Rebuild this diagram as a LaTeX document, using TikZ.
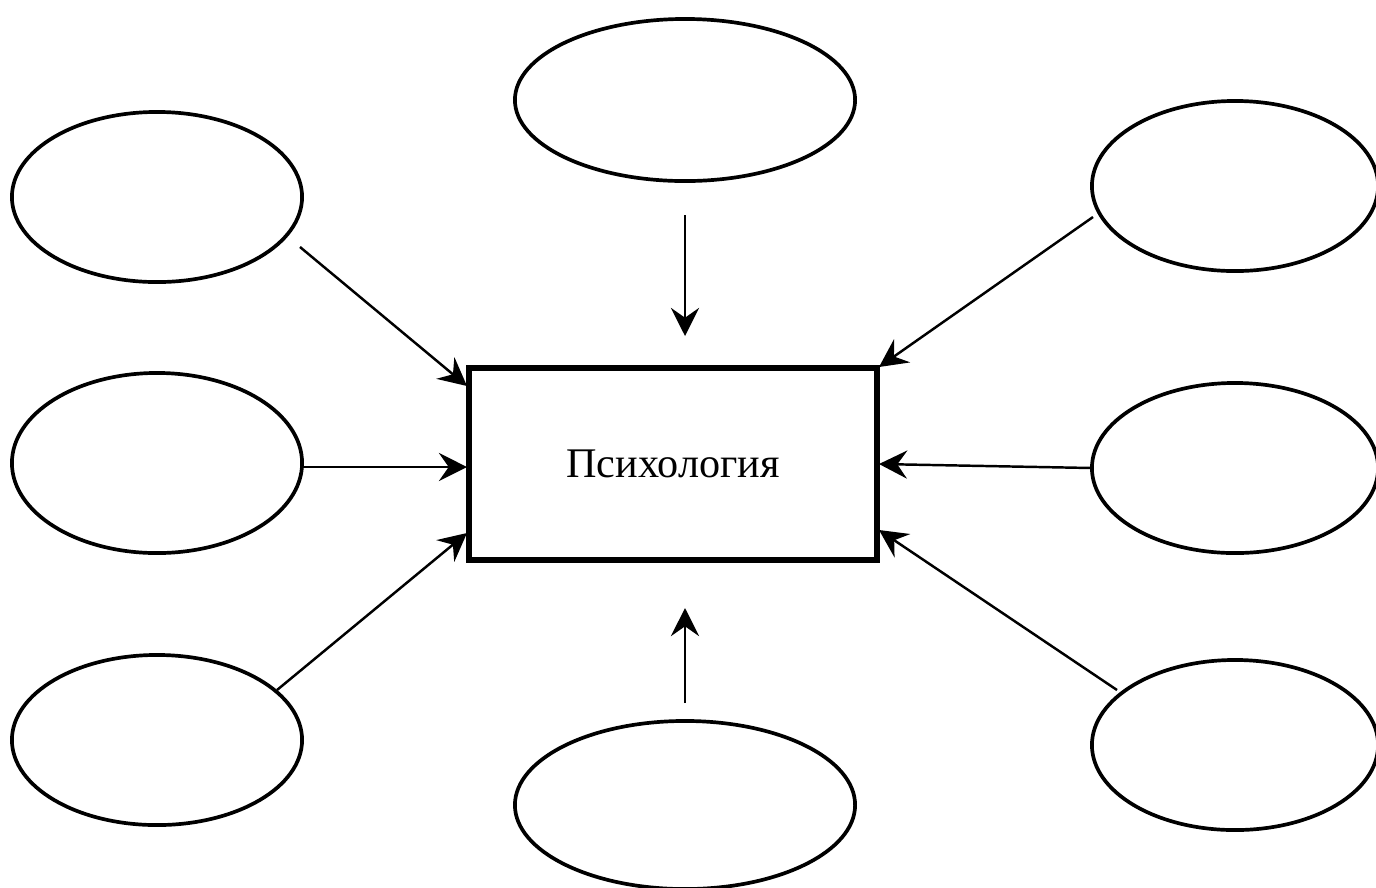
\documentclass[tikz,border=0pt]{standalone}
\usepackage{fontspec}
\setmainfont{Liberation Serif}
\usetikzlibrary{shapes.geometric, arrows.meta}

\tikzset{
    oval/.style={draw, ellipse, line width=1.05pt, inner sep=0pt, minimum width=2.9cm, minimum height=1.7cm},
    wideoval/.style={oval, minimum width=3.4cm, minimum height=1.62cm},
    pointer/.style={-{Stealth[length=8pt, width=8pt, inset=2.8pt]}, line width=0.7pt}
}

\begin{document}
\begin{tikzpicture}[x=0.01cm, y=-0.01cm]
    \useasboundingbox (0,0) rectangle (1376,887);
    % centre box
    \node[draw, line width=1.5pt, minimum width=4.08cm, minimum height=1.92cm, font=\fontsize{12}{14}\selectfont] (psy) at (673,464) {Психология};
    % ovals
    \node[oval] (leftTop) at (157,197) {};
    \node[oval, minimum height=1.8cm] (leftMid) at (157,463) {};
    \node[oval] (leftBot) at (157,740) {};
    \node[wideoval] (top) at (685,100) {};
    \node[wideoval, minimum height=1.68cm] (bot) at (685,805) {};
    \node[oval, minimum width=2.86cm] (rightTop) at (1235,186) {};
    \node[oval, minimum width=2.86cm] (rightMid) at (1235,468) {};
    \node[oval, minimum width=2.86cm] (rightBot) at (1235,745) {};
    % free ends of the arrows
    \coordinate (ltS) at (300,247);  \coordinate (ltE) at (467,386);
    \coordinate (lmS) at (302,467);  \coordinate (lmE) at (467,467);
    \coordinate (lbS) at (277,690);  \coordinate (lbE) at (467,533);
    \coordinate (tS) at (685,215);   \coordinate (tE) at (685,336);
    \coordinate (bS) at (685,703);   \coordinate (bE) at (685,608);
    \coordinate (rtS) at (1093,217); \coordinate (rtE) at (879,367);
    \coordinate (rmS) at (1092,468); \coordinate (rmE) at (879,464);
    \coordinate (rbS) at (1117,690); \coordinate (rbE) at (879,530);
    \draw[pointer] (ltS) -- (ltE);
    \draw[pointer] (lmS) -- (lmE);
    \draw[pointer] (lbS) -- (lbE);
    \draw[pointer] (tS) -- (tE);
    \draw[pointer] (bS) -- (bE);
    \draw[pointer] (rtS) -- (rtE);
    \draw[pointer] (rmS) -- (rmE);
    \draw[pointer] (rbS) -- (rbE);
\end{tikzpicture}
\end{document}
